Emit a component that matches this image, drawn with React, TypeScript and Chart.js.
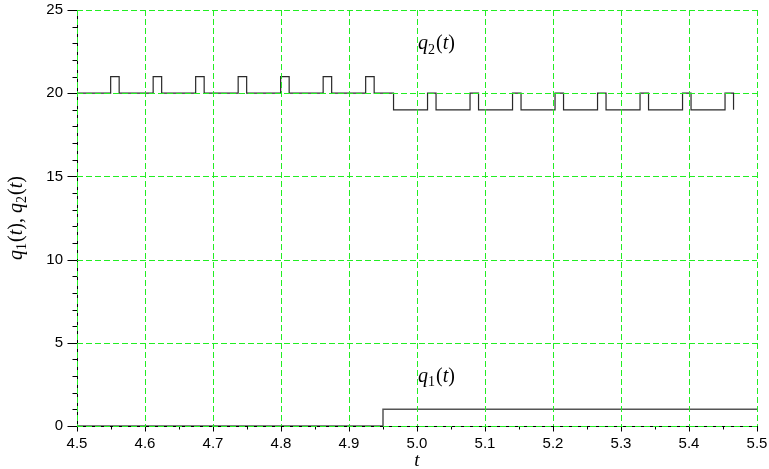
import React, { useEffect, useRef } from "react";
import { Chart, registerables } from "chart.js";

Chart.register(...registerables);

// ---- data ----
const q2Times = [
  4.5, 4.5495, 4.562, 4.612, 4.6245, 4.6745, 4.687, 4.737, 4.7495, 4.7995, 4.812,
  4.862, 4.8745, 4.9245, 4.937, 4.9655, 5.0155, 5.028, 5.078, 5.0905, 5.1405,
  5.153, 5.203, 5.2155, 5.2655, 5.278, 5.328, 5.3405, 5.3905, 5.403, 5.453, 5.4655,
];
const q2Values = [
  20, 21, 20, 21, 20, 21, 20, 21, 20, 21, 20,
  21, 20, 21, 20, 19, 20, 19, 20, 19, 20,
  19, 20, 19, 20, 19, 20, 19, 20, 19, 20, 19,
];
const q1Times = [4.5, 4.95, 5.5];
const q1Values = [0, 1, 1];

const xTickValues = [4.5, 4.6, 4.7, 4.8, 4.9, 5.0, 5.1, 5.2, 5.3, 5.4, 5.5];
const yTickValues = [0, 5, 10, 15, 20, 25];

// annotation labels: subscript, t, level
const labelSubs = ["2", "1"];
const labelTimes = [5.0, 5.0];
const labelLevels = [23.0, 3.0];

type Part = { s: string; k: "i" | "r" | "sub" };
const SERIF = '"Liberation Serif", "DejaVu Serif", serif';

function fontFor(k: Part["k"], size: number) {
  if (k === "i") return `italic ${size}px ${SERIF}`;
  if (k === "sub") return `${Math.round(size * 0.7)}px ${SERIF}`;
  return `${size}px ${SERIF}`;
}

function mathWidth(ctx: CanvasRenderingContext2D, parts: Part[], size: number) {
  let w = 0;
  for (const p of parts) {
    ctx.font = fontFor(p.k, size);
    w += ctx.measureText(p.s).width + (p.k === "sub" ? 1 : 0);
  }
  return w;
}

function drawMath(
  ctx: CanvasRenderingContext2D,
  parts: Part[],
  x: number,
  baseline: number,
  size: number,
  align: "left" | "center"
) {
  let cx = align === "center" ? x - mathWidth(ctx, parts, size) / 2 : x;
  ctx.textAlign = "left";
  ctx.textBaseline = "alphabetic";
  ctx.fillStyle = "#000";
  for (const p of parts) {
    ctx.font = fontFor(p.k, size);
    const dy = p.k === "sub" ? size * 0.22 : 0;
    ctx.fillText(p.s, cx, baseline + dy);
    cx += ctx.measureText(p.s).width + (p.k === "sub" ? 1 : 0);
  }
}

const qParts = (sub: string): Part[] => [
  { s: "q", k: "i" },
  { s: sub, k: "sub" },
  { s: "(", k: "r" },
  { s: "t", k: "i" },
  { s: ")", k: "r" },
];

const decorPlugin = {
  id: "decor",
  afterDatasetsDraw(chart: any) {
    const { ctx, chartArea: a, scales } = chart;
    const x = scales.x;
    const y = scales.y;
    ctx.save();
    const left = Math.round(a.left) + 0.5;
    const bottom = Math.round(a.bottom) + 0.5;
    // axes
    ctx.strokeStyle = "#000";
    ctx.lineWidth = 1;
    ctx.setLineDash([]);
    ctx.beginPath();
    ctx.moveTo(left, Math.round(a.top));
    ctx.lineTo(left, bottom);
    ctx.lineTo(Math.round(a.right) + 1, bottom);
    ctx.stroke();
    // y ticks (major every 5, minor every 1)
    ctx.beginPath();
    for (let v = 0; v <= 25; v++) {
      const py = Math.round(y.getPixelForValue(v)) + 0.5;
      const len = v % 5 === 0 ? 10 : 5;
      ctx.moveTo(left - len, py);
      ctx.lineTo(left, py);
    }
    // x ticks (major every 0.1, minor every 0.05)
    for (let i = 0; i <= 20; i++) {
      const v = 4.5 + i * 0.05;
      const px = Math.round(x.getPixelForValue(v)) + 0.5;
      const len = i % 2 === 0 ? 5 : 3;
      ctx.moveTo(px, bottom);
      ctx.lineTo(px, bottom + len);
    }
    ctx.stroke();
    // grid
    ctx.strokeStyle = "#22ee22";
    ctx.setLineDash([6, 3]);
    ctx.beginPath();
    for (const v of xTickValues) {
      const px = Math.round(x.getPixelForValue(v)) + 0.5;
      ctx.moveTo(px, a.top);
      ctx.lineTo(px, a.bottom);
    }
    for (const v of yTickValues) {
      const py = Math.round(y.getPixelForValue(v)) + 0.5;
      ctx.moveTo(a.left, py);
      ctx.lineTo(a.right, py);
    }
    ctx.stroke();
    ctx.setLineDash([]);

    // annotations
    const size = 20;
    labelSubs.forEach((sub, i) => {
      const px = x.getPixelForValue(labelTimes[i]) + 1;
      const py = y.getPixelForValue(labelLevels[i]);
      drawMath(ctx, qParts(sub), px, py + size * 0.3, size, "left");
    });

    // axis titles
    const midX = (a.left + a.right) / 2;
    drawMath(ctx, [{ s: "t", k: "i" }], midX, a.bottom + 40, 19, "center");

    const yTitle: Part[] = [...qParts("1"), { s: ", ", k: "r" }, ...qParts("2")];
    ctx.translate(22, (a.top + a.bottom) / 2);
    ctx.rotate(-Math.PI / 2);
    drawMath(ctx, yTitle, 0, 0, 20, "center");
    ctx.restore();
  },
};

export default function App() {
  const ref = useRef<HTMLCanvasElement>(null);
  useEffect(() => {
    const chart = new Chart(ref.current!, {
      type: "line",
      data: {
        datasets: [
          {
            label: "q2",
            data: q2Times.map((t, i) => ({ x: t, y: q2Values[i] })),
            stepped: true,
            borderColor: "#2a2a2a",
            borderWidth: 1.2,
            pointRadius: 0,
            fill: false,
          },
          {
            label: "q1",
            data: q1Times.map((t, i) => ({ x: t, y: q1Values[i] })),
            stepped: true,
            borderColor: "#555555",
            borderWidth: 1.5,
            pointRadius: 0,
            fill: false,
          },
        ],
      },
      options: {
        animation: false,
        responsive: false,
        devicePixelRatio: 1,
        layout: { padding: { top: 10, right: 12, left: 0, bottom: 0 } },
        plugins: { legend: { display: false }, tooltip: { enabled: false } },
        scales: {
          x: {
            type: "linear",
            min: 4.5,
            max: 5.5,
            afterBuildTicks: (s: any) => {
              s.ticks = xTickValues.map((v) => ({ value: v }));
            },
            afterFit: (s: any) => {
              s.height = 43;
              s.paddingLeft = 0;
              s.paddingRight = 0;
              s.paddingTop = 0;
              s.paddingBottom = 0;
            },
            grid: { display: false, drawTicks: false, tickLength: 0 },
            border: { display: false },
            ticks: {
              padding: 9,
              autoSkip: false,
              maxRotation: 0,
              color: "#000",
              font: { family: '"Liberation Sans", Arial, sans-serif', size: 15 },
              callback: (v: any) => Number(v).toFixed(1),
            },
          },
          y: {
            type: "linear",
            min: 0,
            max: 25,
            afterBuildTicks: (s: any) => {
              s.ticks = yTickValues.map((v) => ({ value: v }));
            },
            afterFit: (s: any) => {
              s.width = 77;
              s.paddingLeft = 0;
              s.paddingRight = 0;
              s.paddingTop = 0;
              s.paddingBottom = 0;
            },
            grid: { display: false, drawTicks: false, tickLength: 0 },
            border: { display: false },
            ticks: {
              padding: 14,
              color: "#000",
              font: { family: '"Liberation Sans", Arial, sans-serif', size: 15 },
              callback: (v: any) => String(v),
            },
          },
        },
      },
      plugins: [decorPlugin],
    } as any);
    return () => chart.destroy();
  }, []);
  return (
    <div style={{ position: "absolute", left: 0, top: 0, width: 769, height: 469, background: "#fff" }}>
      <canvas ref={ref} width={769} height={469} />
    </div>
  );
}
